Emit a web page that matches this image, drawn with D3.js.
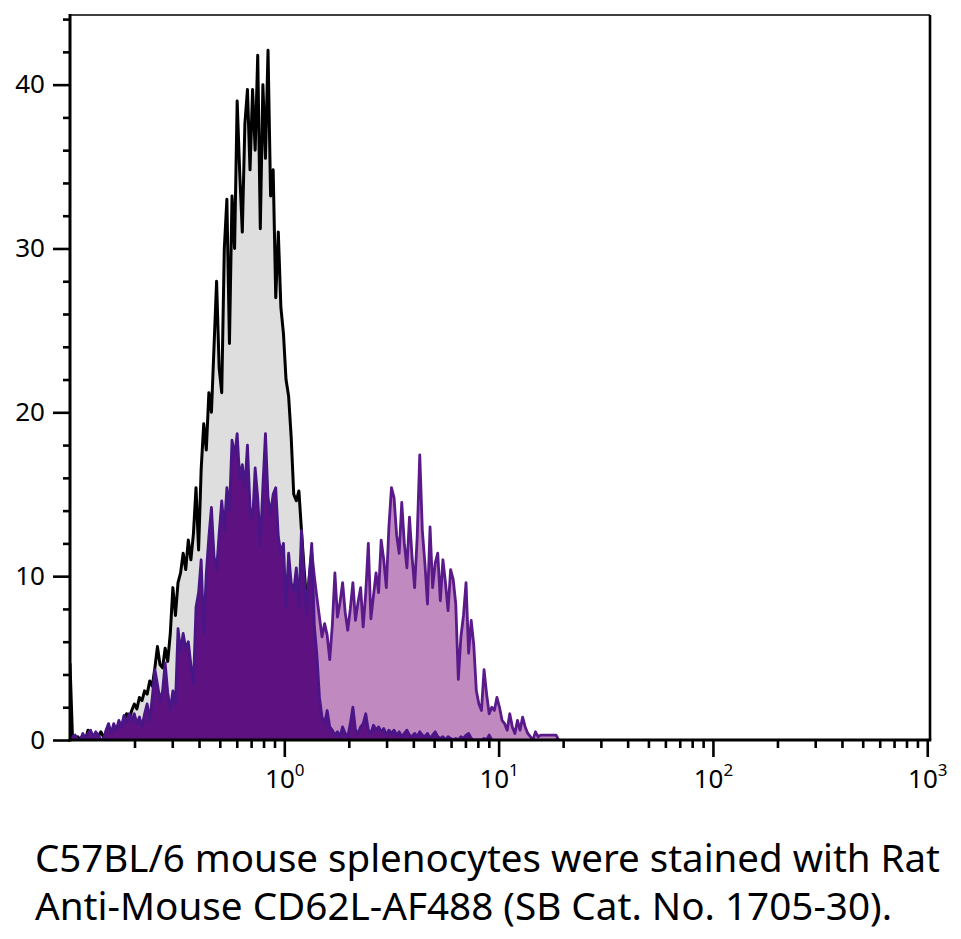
<!DOCTYPE html>
<html>
<head>
<meta charset="utf-8">
<script src="https://cdn.jsdelivr.net/npm/d3@7"></script>
<style>
  html, body { margin: 0; padding: 0; background: #fff; }
  svg { display: block; }
  text { font-family: "Noto Sans", "Open Sans", sans-serif; fill: #000; }
</style>
</head>
<body>
<svg id="chart" width="961" height="939"></svg>
<script>
// ---- Data: histogram channels on a log scale (bin i at 10^(binStart + i*binStep)) ----
const binStart = -1;
const binStep = 0.012;

// Unstained / control (grey fill, black outline)
const controlCounts = [
  4.7, 0, 0, 0.2, 0, 0.3, 0, 0.6, 0.2, 0,
  0.3, 0.2, 0.5, 0.2, 0.4, 0.6, 0.3, 0.7, 0.5, 1.0,
  0.8, 1.1, 1.6, 1.3, 1.8, 2.2, 1.9, 2.6, 2.4, 3.0,
  2.8, 3.6, 3.3, 4.4, 5.7, 4.6, 4.4, 5.6, 4.8, 6.5,
  9.3, 7.6, 9.6, 10.2, 11.4, 10.4, 12.2, 11.0, 12.6, 15.4,
  11.6, 16.5, 19.3, 17.7, 21.2, 20.0, 24.0, 28.0, 22.7, 21.2,
  30.0, 33.0, 24.2, 33.2, 30.0, 39.0, 34.6, 31.0, 37.6, 39.7,
  34.8, 39.7, 36.0, 41.8, 31.2, 40.0, 35.5, 42.1, 33.2, 34.8,
  27.0, 31.0, 26.4, 24.8, 22.0, 21.0, 18.5, 15.0, 14.6, 15.2,
  12.8, 10.5, 8.5, 6.8, 5.0, 3.8, 2.8, 2.0, 1.4, 0.9,
  0.6, 0.3, 0.2, 0.1, 0
];

// CD62L stained sample (light purple fill) - bimodal
const stainedCounts = [
  0, 0, 0, 0, 0, 0.2, 0, 0.3, 0.2, 0,
  0.3, 0.2, 0, 0, 0.4, 0.6, 0.3, 0.6, 0.4, 0.8,
  0.5, 0.9, 0.6, 1.0, 0.8, 1.0, 0.7, 0.9, 0.6, 1.0,
  1.4, 0.9, 1.6, 2.6, 2.2, 1.6, 2.0, 3.0, 2.0, 1.3,
  2.0, 1.6, 4.2, 3.5, 4.0, 3.6, 3.8, 3.0, 2.4, 5.0,
  5.5, 6.5, 4.2, 6.5, 7.5, 8.5, 7.0, 6.5, 8.0, 9.0,
  8.0, 9.5, 9.0, 11.0, 10.5, 11.5, 10.0, 10.5, 9.5, 11.0,
  9.0, 8.5, 10.0, 9.2, 7.5, 9.5, 11.5, 9.2, 8.6, 9.4,
  9.6, 7.8, 7.2, 7.6, 5.2, 7.2, 6.2, 5.8, 6.6, 5.2,
  8.0, 9.0, 8.5, 10.0, 11.5, 10.0, 8.7, 7.5, 6.3, 7.1,
  6.4, 4.9, 7.0, 10.2, 7.5, 8.4, 9.6, 7.8, 6.7, 8.0,
  9.6, 7.3, 8.4, 9.3, 6.9, 9.0, 12.0, 7.4, 8.8, 10.2,
  9.0, 12.2, 11.0, 9.3, 13.0, 15.4, 14.8, 12.5, 11.4, 14.5,
  12.0, 10.5, 13.6, 11.2, 9.3, 12.4, 17.4, 12.8, 10.8, 8.3,
  13.0, 9.3, 10.8, 11.4, 8.5, 11.0, 9.6, 7.9, 10.4, 9.8,
  8.3, 3.7, 6.3, 7.6, 9.6, 5.3, 7.3, 5.8, 3.0, 2.2,
  1.8, 4.3, 2.8, 1.6, 2.0, 1.8, 2.6, 2.0, 1.2, 1.0,
  0.6, 1.6, 0.8, 0.4, 1.2, 0.6, 1.4, 0.8, 0.4, 0.2,
  0, 0.5, 0.2, 0.3, 0.3, 0.3, 0.3, 0.3, 0.3, 0.3,
  0
];

// Second sample (dark purple fill) - single low peak
const lowCounts = [
  0, 0.2, 0.3, 0, 0, 0.4, 0, 0.4, 0.6, 0.2,
  0.5, 0.3, 0, 0, 0.6, 1.0, 0.4, 1.0, 0.6, 1.2,
  0.8, 1.5, 1.0, 1.6, 1.2, 1.6, 1.0, 1.4, 0.8, 1.6,
  2.2, 1.2, 2.6, 4.3, 3.4, 2.4, 3.0, 4.7, 2.9, 1.8,
  3.0, 2.2, 6.8, 5.4, 6.5, 5.6, 6.0, 4.6, 3.4, 8.1,
  9.0, 11.0, 6.5, 10.2, 12.4, 14.2, 11.2, 10.4, 12.6, 14.6,
  12.8, 15.4, 14.0, 18.3, 17.3, 18.7, 15.9, 16.8, 15.4, 18.0,
  14.2, 13.4, 16.6, 14.8, 11.8, 15.5, 18.7, 14.8, 13.8, 15.0,
  15.4, 12.4, 11.4, 12.0, 8.1, 11.4, 9.6, 9.1, 10.5, 8.1,
  12.8, 10.0, 7.7, 9.9, 12.0, 7.0, 5.2, 2.6, 1.4, 1.0,
  1.8, 0.8, 0.6, 0.3, 0.5, 0.2, 0.8, 0.4, 0.2, 1.0,
  2.0, 0.6, 0.4, 0.8, 1.0, 1.6, 0.6, 0.4, 0.9, 0.6,
  0.8, 0.5, 0.7, 0.3, 0.6, 0.4, 0.6, 0.3, 0.5, 0.2,
  0.4, 0.6, 0.3, 0.2, 0.4, 0.2, 0.5, 0.3, 0.2, 0.4,
  0.1, 0.3, 0.5, 0.2, 0.1, 0.2, 0, 0.2, 0.1, 0,
  0.1, 0, 0.2, 0.1, 0.3, 0.4, 0.1, 0, 0, 0,
  0, 0.1, 0, 0.3, 0
];

const yMajorTicks = [0, 10, 20, 30, 40];
const yMinorTicks = [2, 4, 6, 8, 12, 14, 16, 18, 22, 24, 26, 28, 32, 34, 36, 38, 42, 44];
const xMajorTicks = [1, 10, 100, 1000];
const xMinorTicks = [0.2, 0.3, 0.4, 0.5, 0.6, 0.7, 0.8, 0.9,
                     2, 3, 4, 5, 6, 7, 8, 9,
                     20, 30, 40, 50, 60, 70, 80, 90,
                     200, 300, 400, 500, 600, 700, 800, 900];
const captionLines = [
  "C57BL/6 mouse splenocytes were stained with Rat",
  "Anti-Mouse CD62L-AF488 (SB Cat. No. 1705-30)."
];

// ---- Layout ----
const plot = { left: 70, right: 930, top: 15, bottom: 740 };
const svg = d3.select("#chart");

const x = d3.scaleLog().domain([0.1, 1030]).range([plot.left, plot.right]);
const y = d3.scaleLinear().domain([0, 44.25]).range([plot.bottom, plot.top]);

const channel = i => Math.pow(10, binStart + i * binStep);
const toPoints = arr => arr.map((v, i) => ({ x: channel(i), v }));

svg.append("defs").append("clipPath").attr("id", "clip")
  .append("rect")
  .attr("x", plot.left).attr("y", plot.top)
  .attr("width", plot.right - plot.left).attr("height", plot.bottom - plot.top);

const area = d3.area().x(d => x(d.x)).y0(y(0)).y1(d => y(d.v));
const line = d3.line().x(d => x(d.x)).y(d => y(d.v));

const series = [
  { data: controlCounts, fill: "#dedede", stroke: "#000000", sw: 3.0 },
  { data: stainedCounts, fill: "#c089c0", stroke: "#5a1a8a", sw: 2.8 },
  { data: lowCounts,     fill: "#5e1181", stroke: "#4a1687", sw: 2.8 }
];

const gPlot = svg.append("g").attr("clip-path", "url(#clip)");
series.forEach(s => {
  const pts = toPoints(s.data);
  gPlot.append("path").datum(pts).attr("d", area).attr("fill", s.fill);
  gPlot.append("path").datum(pts).attr("d", line)
    .attr("fill", "none").attr("stroke", s.stroke)
    .attr("stroke-width", s.sw).attr("stroke-linejoin", "round");
});

// ---- Axes ----
const tickStroke = 2.6;
const yMinorAxis = d3.axisLeft(y).tickValues(yMinorTicks).tickSize(7).tickFormat("");
const yMajorAxis = d3.axisLeft(y).tickValues(yMajorTicks).tickSize(17).tickPadding(8).tickFormat(d3.format("d"));
const xMinorAxis = d3.axisBottom(x).tickValues(xMinorTicks).tickSize(8).tickFormat("");
const xMajorAxis = d3.axisBottom(x).tickValues(xMajorTicks).tickSize(17).tickFormat("");

function styleAxis(g) {
  g.select(".domain").remove();
  g.selectAll(".tick line").attr("stroke", "#000").attr("stroke-width", tickStroke);
}

svg.append("g").attr("transform", `translate(${plot.left},0)`).call(yMinorAxis).call(styleAxis);
const gy = svg.append("g").attr("transform", `translate(${plot.left},0)`).call(yMajorAxis).call(styleAxis);
gy.selectAll(".tick text").attr("font-size", 26).attr("fill", "#000")
  .attr("font-family", "'Noto Sans', sans-serif");

svg.append("g").attr("transform", `translate(0,${plot.bottom})`).call(xMinorAxis).call(styleAxis);
const gx = svg.append("g").attr("transform", `translate(0,${plot.bottom})`).call(xMajorAxis).call(styleAxis);
gx.selectAll(".tick text").each(function(d) {
  const t = d3.select(this);
  t.text(null).attr("y", 48).attr("dy", 0).attr("font-size", 26).attr("fill", "#000")
    .attr("font-family", "'Noto Sans', sans-serif").attr("text-anchor", "middle");
  t.append("tspan").text("10");
  t.append("tspan").attr("dy", -12).attr("font-size", 17).text(Math.round(Math.log10(d)));
});

// ---- Frame ----
const frame = svg.append("g").attr("fill", "none").attr("stroke", "#000");
frame.append("line").attr("x1", plot.left).attr("x2", plot.right).attr("y1", plot.top).attr("y2", plot.top)
  .attr("stroke-width", 1.6);
frame.append("line").attr("x1", plot.right).attr("x2", plot.right).attr("y1", plot.top).attr("y2", plot.bottom)
  .attr("stroke-width", 2.6);
frame.append("line").attr("x1", plot.left).attr("x2", plot.left).attr("y1", plot.top - 1).attr("y2", plot.bottom + 1.5)
  .attr("stroke-width", 3);
frame.append("line").attr("x1", plot.left - 1.5).attr("x2", plot.right + 1.3).attr("y1", plot.bottom).attr("y2", plot.bottom)
  .attr("stroke-width", 3);

// ---- Caption ----
const caption = svg.append("g");
const captionWidths = [905, 857];
captionLines.forEach((txt, i) => {
  caption.append("text")
    .attr("x", 35).attr("y", 872 + i * 48)
    .attr("font-size", 38)
    .attr("textLength", captionWidths[i])
    .attr("lengthAdjust", "spacingAndGlyphs")
    .text(txt);
});
</script>
</body>
</html>
